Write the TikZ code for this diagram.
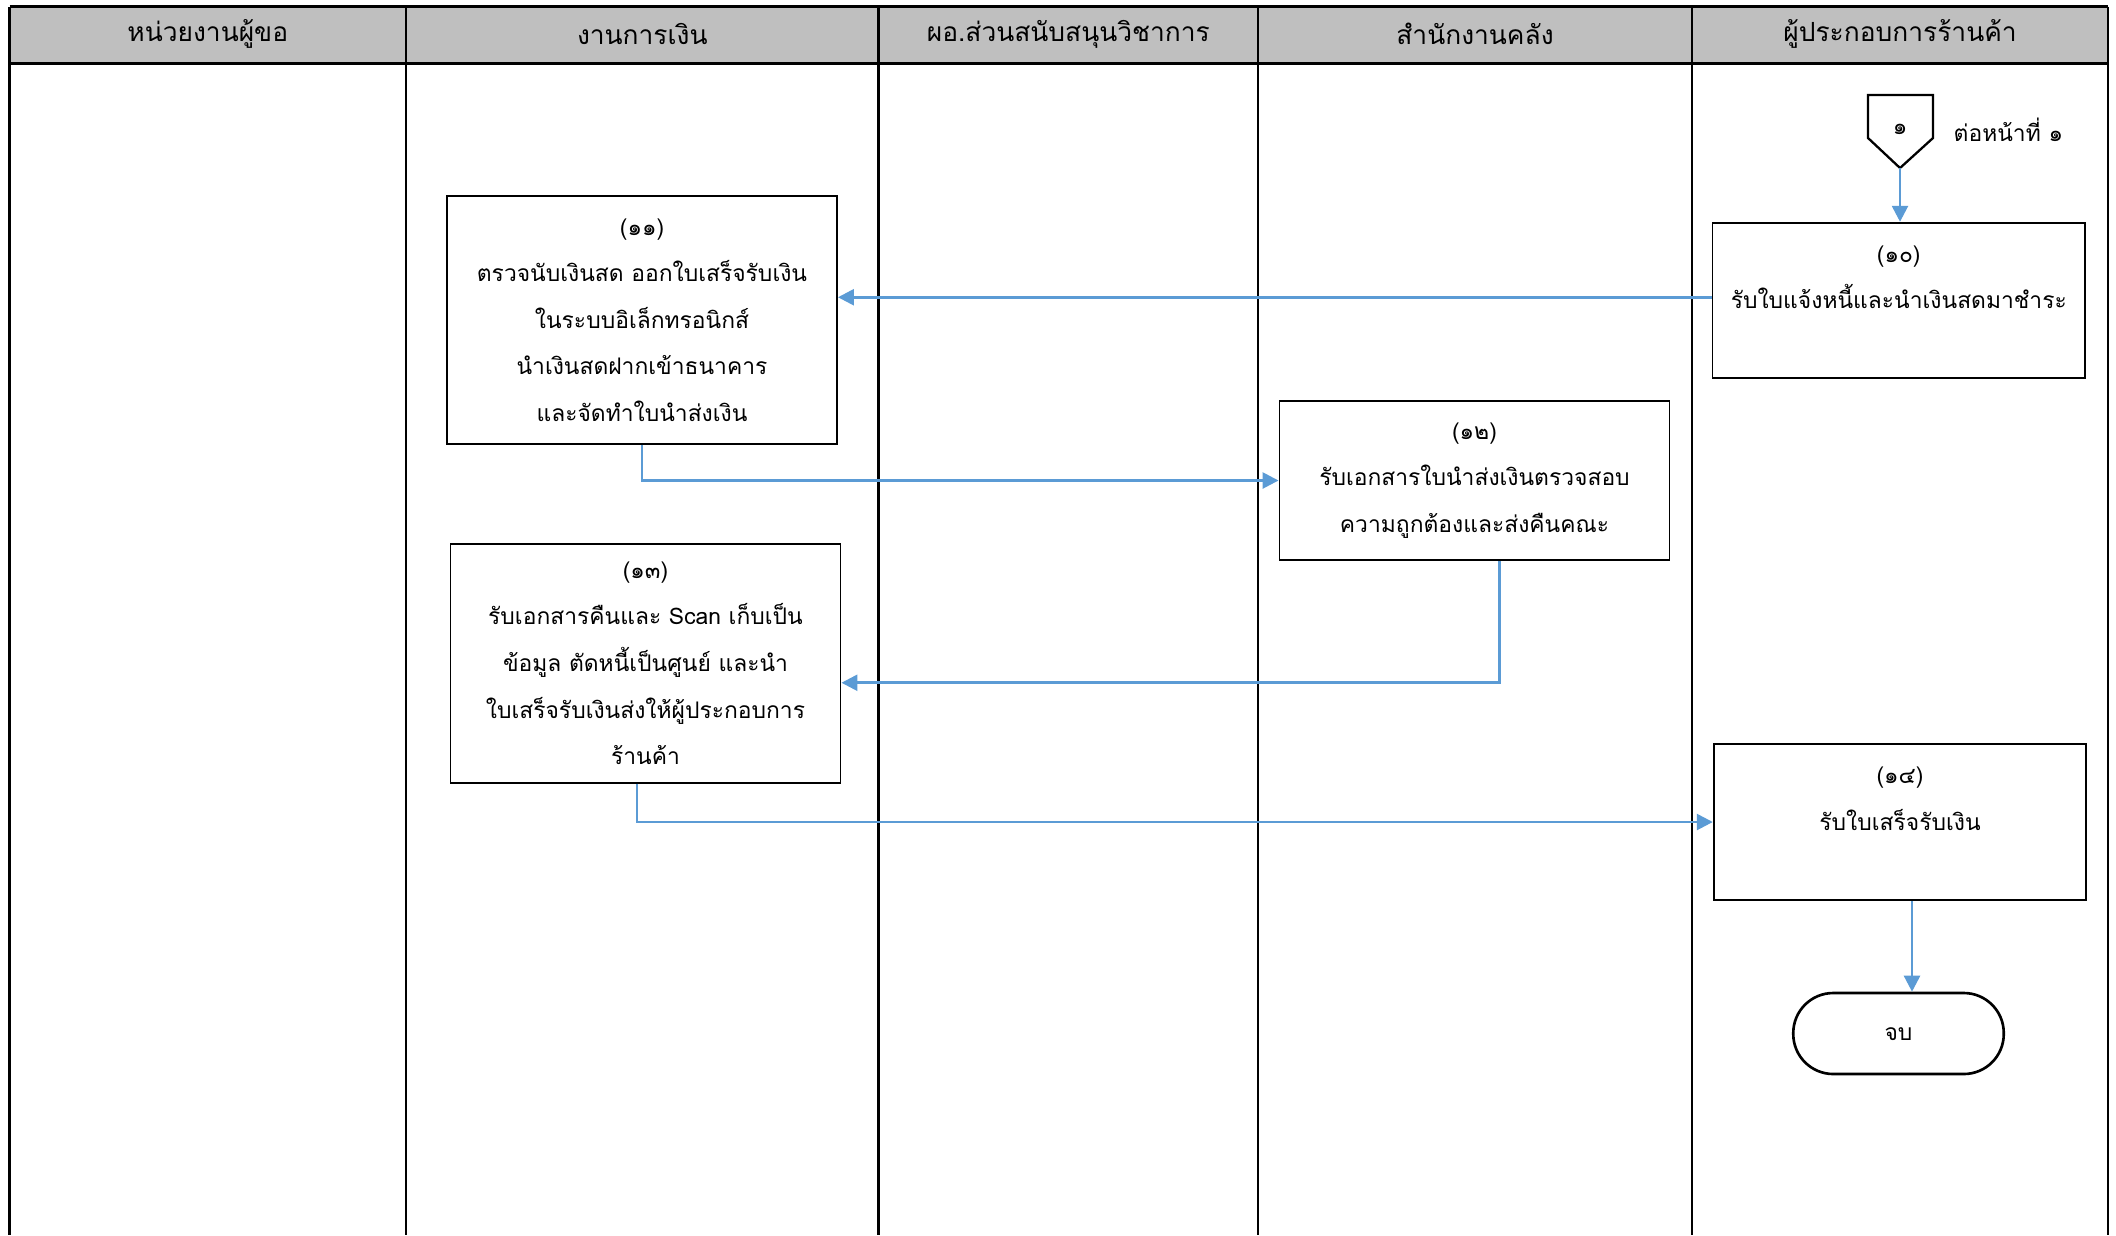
\documentclass[tikz,border=0pt]{standalone}
\usepackage{fontspec}
\setmainfont[Script=Thai]{Loma}
\usepackage{tikz}
\usetikzlibrary{arrows.meta}

\definecolor{headgray}{RGB}{191,191,191}
\definecolor{flowblue}{RGB}{91,155,213}

\begin{document}
\begin{tikzpicture}[
  lane/.style={line width=1.5pt},
  headtext/.style={font=\fontsize{15pt}{18pt}\selectfont},
  procbox/.style={draw, line width=1.1pt, align=center, inner sep=2pt,
    minimum width=7.8cm, font=\fontsize{13pt}{26.5pt}\selectfont},
  endbox/.style={draw, line width=1.5pt, rounded corners=0.8cm,
    minimum width=4.21cm, minimum height=1.62cm, font=\fontsize{13pt}{16pt}\selectfont},
  flow/.style={draw=flowblue, line width=1.5pt, -{Triangle[length=0.32cm,width=0.32cm]}}
]
  \useasboundingbox (0,0) rectangle (42.32,-24.7);

  % swimlane header and lane borders
  \fill[headgray] (0.19,-0.134) rectangle (42.16,-1.27);
  \foreach \i/\xl/\xr/\txt in {1/0.19/8.12/หน่วยงานผู้ขอ,
                               2/8.12/17.57/งานการเงิน,
                               3/17.57/25.16/ผอ.ส่วนสนับสนุนวิชาการ,
                               4/25.16/33.84/สำนักงานคลัง,
                               5/33.84/42.16/ผู้ประกอบการร้านค้า} {
    \node[headtext] (h\i) at ({(\xl+\xr)/2},-0.68) {\txt};
    \draw[lane] (\xl,-0.134) -- (\xl,-24.7);
  }
  \draw[lane] (42.16,-0.134) -- (42.16,-24.7);
  \draw[lane] (0.19,-0.134) -- (42.16,-0.134);
  \draw[lane] (0.19,-1.27) -- (42.16,-1.27);

  % off-page connector from page 1
  \draw[line width=1.3pt] (37.36,-1.90) -- (38.66,-1.90) -- (38.66,-2.76)
    -- (38.0,-3.36) -- (37.36,-2.76) -- cycle;
  \coordinate (contip) at (38.0,-3.36);
  \node[font=\fontsize{13pt}{16pt}\selectfont] (con) at (38.0,-2.58) {๑};
  \node[anchor=west, font=\fontsize{13pt}{16pt}\selectfont] (conlbl) at (38.95,-2.60) {ต่อหน้าที่ ๑};

  % process steps
  \node[procbox, minimum width=7.45cm, minimum height=3.10cm] (b10) at (37.975,-6.005)
    {(๑๐)\\ รับใบแจ้งหนี้และนำเงินสดมาชำระ\\ ~};
  \node[procbox, minimum height=4.96cm] (b11) at (12.84,-6.40)
    {(๑๑)\\ ตรวจนับเงินสด ออกใบเสร็จรับเงิน\\ ในระบบอิเล็กทรอนิกส์\\ นำเงินสดฝากเข้าธนาคาร\\ และจัดทำใบนำส่งเงิน};
  \node[procbox, minimum height=3.18cm] (b12) at (29.49,-9.61)
    {(๑๒)\\ รับเอกสารใบนำส่งเงินตรวจสอบ\\ ความถูกต้องและส่งคืนคณะ};
  \node[procbox, minimum height=4.78cm] (b13) at (12.91,-13.265)
    {(๑๓)\\ รับเอกสารคืนและ Scan เก็บเป็น\\ ข้อมูล ตัดหนี้เป็นศูนย์ และนำ\\ ใบเสร็จรับเงินส่งให้ผู้ประกอบการ\\ ร้านค้า};
  \node[procbox, minimum width=7.45cm, minimum height=3.13cm] (b14) at (38.0,-16.44)
    {(๑๔)\\ รับใบเสร็จรับเงิน\\ ~};
  \node[endbox] (fin) at (37.97,-20.67) {\raisebox{-0.3cm}{จบ}};

  % flow lines
  \draw[flow] (contip) -- (contip |- b10.north);
  \draw[flow] ([yshift=0.06cm]b10.west) -- ([yshift=0.06cm]b10.west -| b11.east);
  \draw[flow] (b11.south) |- (b12.west);
  \draw[flow] ([xshift=0.5cm]b12.south) |- ([yshift=-0.39cm]b13.east);
  \draw[flow] ([xshift=-0.17cm]b13.south) |- (b14.west);
  \draw[flow] ([xshift=0.24cm]b14.south) -- ([xshift=0.24cm]b14.south |- fin.north);
\end{tikzpicture}
\end{document}
